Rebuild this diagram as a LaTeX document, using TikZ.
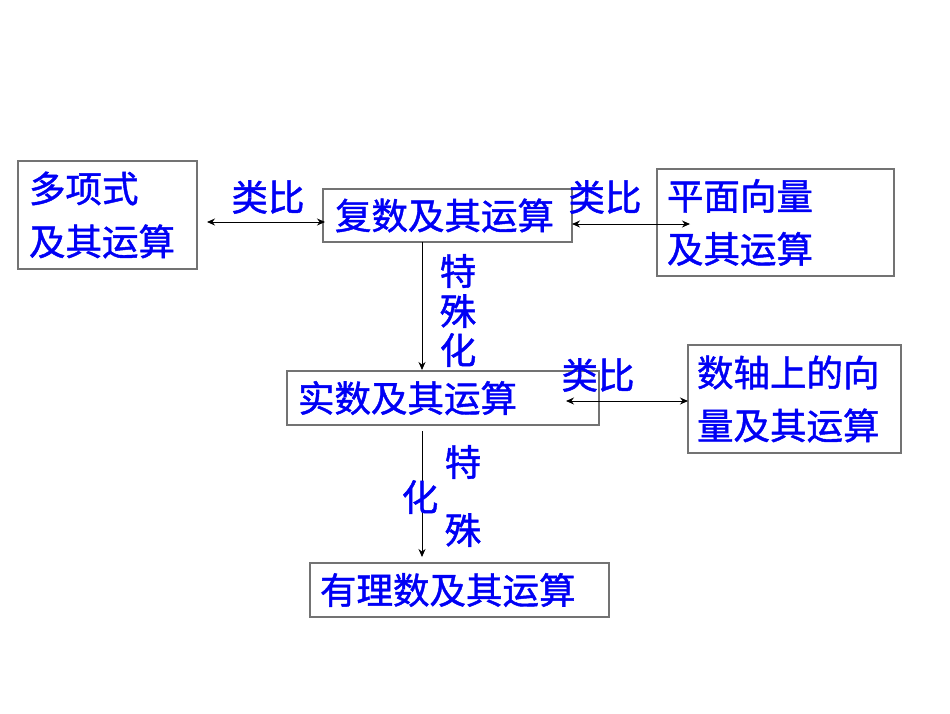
\documentclass[tikz,border=0pt]{standalone}
\usepackage{fontspec}
\newfontfamily\cjk[FakeBold=1.2]{Noto Sans CJK SC}
\usetikzlibrary{arrows.meta}
\definecolor{txtblue}{RGB}{0,0,245}
\begin{document}
\begin{tikzpicture}[x=1pt,y=-1pt,
  box/.style={draw=black!55,line width=1.3pt,inner sep=0pt,font=\cjk\fontsize{36.5}{53}\selectfont,text=txtblue,align=left},
  lbl/.style={font=\cjk\fontsize{36.5}{42}\selectfont,text=txtblue,inner sep=0pt},
  conn/.style={line width=1pt,-{Stealth[length=8pt,width=7pt]}},
  dconn/.style={line width=1pt,{Stealth[length=8pt,width=7pt]}-{Stealth[length=8pt,width=7pt]}}]
\useasboundingbox (0,0) rectangle (950,713);
\fill[white] (0,0) rectangle (950,713);
% boxes
\node[box,minimum width=179pt,minimum height=108pt,text width=157pt] (poly) at (107.5,215) {多项式\\及其运算};
\node[box,minimum width=249pt,minimum height=53pt,text width=225pt] (cplx) at (447.5,215.5) {复数及其运算};
\node[box,minimum width=237pt,minimum height=107pt,text width=217pt] (vec) at (775.5,222.5) {平面向量\\及其运算};
\node[box,minimum width=312pt,minimum height=54pt,text width=290pt] (real) at (443,398) {实数及其运算};
\node[box,minimum width=213pt,minimum height=108pt,text width=195pt] (axis) at (794.5,399) {数轴上的向\\量及其运算};
\node[box,minimum width=299pt,minimum height=54pt,text width=279pt] (rat) at (459.5,590) {有理数及其运算};
% connector end points
\coordinate (a1) at (207,222);
\coordinate (a2) at (325,222);
\coordinate (b1) at (572,224);
\coordinate (b2) at (690,224);
\coordinate (c1) at (422,242);
\coordinate (c2) at (422,370);
\coordinate (d1) at (566,401);
\coordinate (d2) at (688,401);
\coordinate (e1) at (422,431);
\coordinate (e2) at (422,557);
\draw[dconn] (a1) -- (a2);
\draw[dconn] (b1) -- (b2);
\draw[conn] (c1) -- (c2);
\draw[dconn] (d1) -- (d2);
\draw[conn] (e1) -- (e2);
% labels
\node[lbl] (l1) at (268,197) {类比};
\node[lbl] (l2) at (605,197) {类比};
\node[lbl] (l3) at (598,375) {类比};
\node[lbl] (t1) at (458,271) {特};
\node[lbl] (t2) at (458,311) {殊};
\node[lbl] (t3) at (458,350) {化};
\node[lbl] (u1) at (463,462) {特};
\node[lbl] (u2) at (420,497) {化};
\node[lbl] (u3) at (463,530) {殊};
\end{tikzpicture}
\end{document}
